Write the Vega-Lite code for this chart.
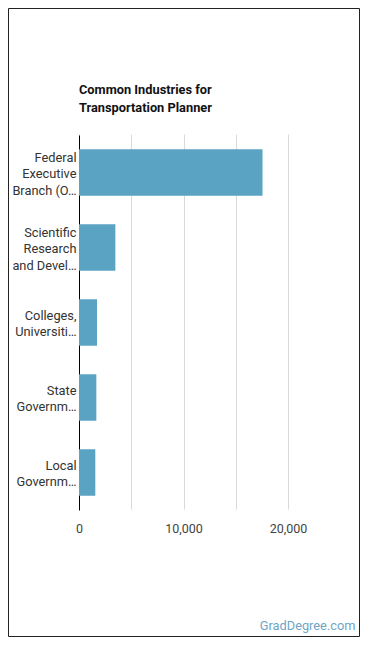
{
  "$schema": "https://vega.github.io/schema/vega-lite/v6.json",
  "width": 351,
  "height": 628,
  "autosize": {"type": "none"},
  "padding": {"left": 8, "top": 8, "right": 11, "bottom": 12},
  "background": "white",
  "config": {
    "view": {"stroke": "#222", "strokeWidth": 1},
    "font": "Roboto"
  },
  "title": {
    "text": ["Common Industries for", "Transportation Planner"],
    "anchor": "start",
    "frame": "group",
    "orient": "top",
    "fontSize": 12.8,
    "fontWeight": "bold",
    "color": "#111",
    "lineHeight": 18,
    "baseline": "alphabetic",
    "offset": 0,
    "dx": 71,
    "dy": 117
  },
  "data": {
    "values": [
      {"industry": "Federal\nExecutive\nBranch (O…", "employees": 17560},
      {"industry": "Scientific\nResearch\nand Devel…", "employees": 3480},
      {"industry": "Colleges,\nUniversiti…", "employees": 1725},
      {"industry": "State\nGovernm…", "employees": 1660},
      {"industry": "Local\nGovernm…", "employees": 1560}
    ]
  },
  "mark": {"type": "bar", "color": "#5ba3c2"},
  "encoding": {
    "y": {
      "field": "industry",
      "type": "nominal",
      "sort": "-x",
      "scale": {"range": [127, 502], "paddingInner": 0.38, "paddingOuter": 0.19},
      "axis": {
        "title": null,
        "offset": -71,
        "domainColor": "#000",
        "domainWidth": 1,
        "ticks": false,
        "tickSize": 0,
        "labelPadding": 3,
        "labelFontSize": 12.8,
        "labelColor": "#333",
        "labelLineHeight": 16.5,
        "labelExpr": "split(datum.label, '\\n')",
        "labelOffset": {"condition": {"test": "length(split(datum.label, '\\n')) == 3", "value": -15}, "value": -7},
        "labelLimit": 200
      }
    },
    "x": {
      "field": "employees",
      "type": "quantitative",
      "scale": {"domain": [0, 20000], "range": [71, 280], "nice": false},
      "axis": {
        "offset": -126,
        "values": [0, 5000, 10000, 15000, 20000],
        "labelExpr": "datum.value % 10000 === 0 ? format(datum.value, ',') : ''",
        "labelFlush": false,
        "domain": false,
        "ticks": false,
        "tickSize": 0,
        "labelPadding": 12,
        "labelFontSize": 12.5,
        "labelColor": "#444",
        "gridColor": "#d9d9d9",
        "gridWidth": 1,
        "title": "GradDegree.com",
        "titleFontSize": 12.8,
        "titleFontWeight": "normal",
        "titleColor": "#6fa5c5",
        "titleAlign": "right",
        "titleAnchor": "end",
        "titleBaseline": "alphabetic",
        "titleX": 347,
        "titleY": 119
      }
    }
  }
}
